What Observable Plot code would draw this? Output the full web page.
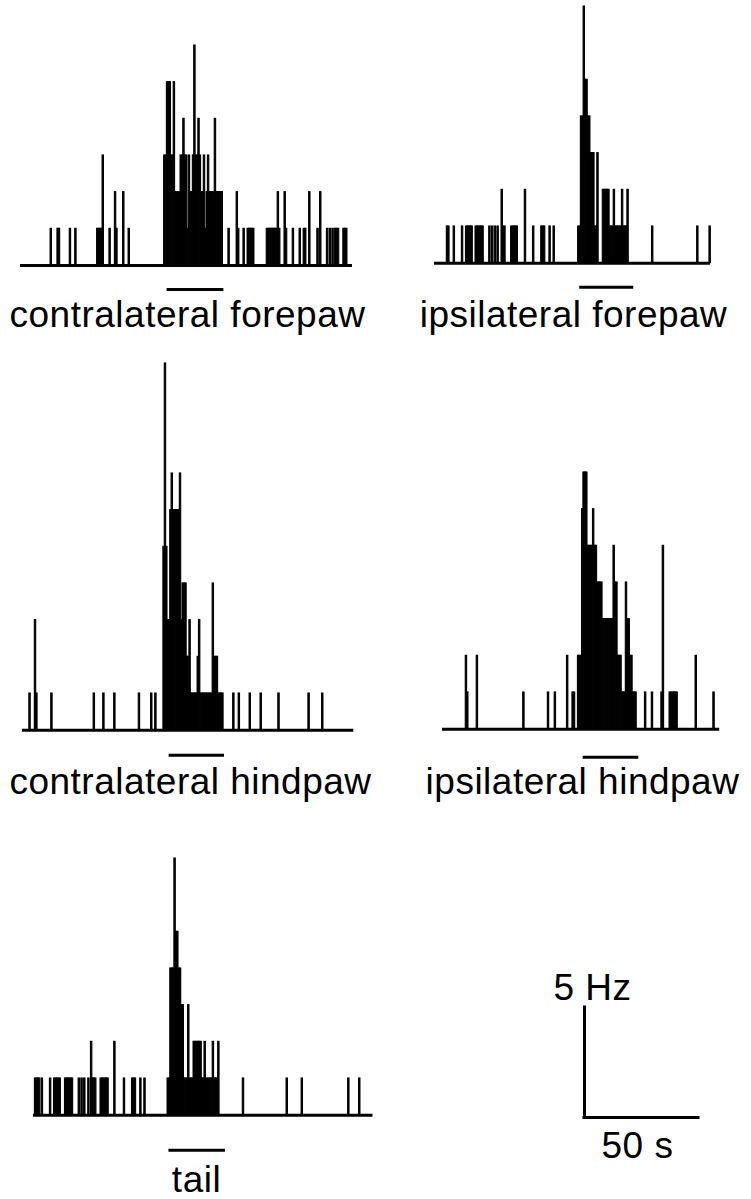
<!DOCTYPE html>
<html>
<head>
<meta charset="utf-8">
<script src="https://cdn.jsdelivr.net/npm/d3@7"></script>
<script src="https://cdn.jsdelivr.net/npm/@observablehq/plot@0.6"></script>
<style>
  html, body { margin: 0; padding: 0; background: #fff; }
  #fig { position: relative; width: 751px; height: 1199px; overflow: hidden; background: #fff; }
  #fig svg { position: absolute; }
</style>
</head>
<body>
<div id="fig"></div>
<script>
// ---------- DATA (peristimulus time histograms, 0.6 s bins: [bin index, spike count]) ----------
const binWidth = 0.6; // seconds per bin

const contraForepaw = [
  [22,1],[27,1],[28,1],[36,1],[40,1],[56,1],[57,1],[58,1],[59,1],[60,3],[65,1],[69,2],[70,1],[75,2],[79,1],
  [105,3],[106,3],[107,5],[108,5],[109,5],[110,3],[111,3],[112,5],[113,2],[114,2],[115,2],[116,2],[117,3],[118,3],
  [119,4],[120,3],[121,3],[122,1],[123,3],[124,2],[125,2],[126,3],[127,6],[128,3],[129,3],[130,4],[131,3],[132,2],
  [133,2],[134,3],[135,1],[136,2],[137,3],[138,2],[139,2],[140,2],[141,2],[142,4],[143,2],[144,2],[145,2],[146,2],[147,2],
  [152,1],[158,2],[159,1],[163,1],[166,1],[167,1],[168,1],[169,1],[170,1],[180,1],[181,1],[182,1],[183,1],[184,1],
  [185,1],[186,1],[187,1],[188,2],[189,1],[193,2],[194,1],[199,1],[204,1],[207,1],[208,1],[211,2],[217,1],[219,2],
  [224,1],[226,1],[228,1],[230,1],[231,1],[232,1],[236,1],[237,1],[238,1]
];

const ipsiForepaw = [
  [9,1],[10,1],[14,1],[20,1],[23,1],[24,1],[25,1],[26,1],[27,1],[30,1],[31,1],[32,1],[33,1],[34,1],[35,1],
  [40,1],[42,1],[44,1],[46,1],[49,2],[50,1],[51,1],[56,1],[57,1],[58,1],[59,1],[60,1],[66,2],[72,1],
  [78,1],[79,1],[80,1],[84,1],[87,1],
  [105,1],[106,1],[107,4],[108,4],[109,7],[110,5],[111,5],[112,4],[113,4],[114,3],[115,3],[116,3],[117,1],[118,1],[119,3],
  [123,2],[124,2],[125,2],[126,2],[127,2],[128,1],[129,1],[130,1],[131,2],[132,1],[133,1],[134,1],[135,1],[136,1],
  [137,2],[138,1],[139,1],[140,1],[141,2],
  [159,1],[192,1],[201,1]
];

const contraHindpaw = [
  [5,1],[9,3],[10,1],[21,1],[52,1],[59,1],[67,1],[85,1],[94,1],[97,1],
  [103,5],[104,10],[105,5],[106,3],[107,3],[108,6],[109,7],[110,6],[111,6],[112,6],[113,6],[114,6],[115,7],[116,3],
  [117,4],[118,4],[119,4],[120,2],[121,2],[122,3],[123,1],[124,1],[125,1],[126,1],[127,1],[128,2],[129,3],
  [130,1],[131,1],[132,1],[133,1],[134,1],[135,1],[136,1],[137,1],[138,1],[139,4],[140,2],[141,2],[142,2],
  [143,1],[144,1],[145,1],[146,1],
  [154,1],[158,1],[166,1],[174,1],[187,1],[209,1],[219,1]
];

const ipsiHindpaw = [
  [17,2],[18,1],[25,2],[59,1],[77,1],[82,1],[91,2],[95,1],[96,1],
  [99,2],[100,2],[101,2],[102,6],[103,7],[104,7],[105,7],[106,5],[107,5],[108,5],[109,5],[110,6],[111,5],[112,5],
  [113,4],[114,4],[115,4],[116,4],[117,3],[118,3],[119,3],[120,3],[121,3],[122,3],[123,3],[124,3],[125,5],[126,4],
  [127,4],[128,2],[129,2],[130,2],[131,1],[132,1],[133,1],[134,4],[135,3],[136,3],[137,2],[138,2],[139,1],[140,1],[141,1],
  [148,1],[153,1],[160,1],[161,5],[166,1],[167,1],[168,1],[169,1],[170,1],[171,1],[185,2],[198,1]
];

const tail = [
  [1,1],[2,1],[3,1],[4,1],[6,1],[12,1],[15,1],[16,1],[17,1],[18,1],[19,1],[23,1],[24,1],[25,1],[26,1],[27,1],[28,1],
  [33,1],[35,1],[37,1],[40,1],[42,2],[43,1],[44,1],[45,1],[49,1],[50,1],[51,1],[52,1],[53,1],[54,1],[59,2],[66,1],
  [72,1],[73,1],[74,1],[78,1],[81,1],
  [98,1],[99,1],[100,4],[101,4],[102,4],[103,7],[104,5],[105,5],[106,4],[107,4],[108,3],[109,3],[110,1],[111,1],[112,1],
  [113,3],[114,1],[115,1],[116,1],[117,2],[118,2],[119,2],[120,2],[121,2],[122,2],[123,1],[124,1],[125,2],[126,1],
  [127,1],[128,1],[129,1],[130,1],[131,2],[132,1],[133,1],[134,1],[135,2],
  [153,1],[185,1],[196,1],[230,1],[238,1]
];

const panelNames = ["contralateral forepaw", "ipsilateral forepaw", "contralateral hindpaw", "ipsilateral hindpaw", "tail"];
const panelSeries = [contraForepaw, ipsiForepaw, contraHindpaw, ipsiHindpaw, tail];
const recordSpan = [145.6, 121, 145.3, 121.6, 148.9];           // s, length of each time axis
const stimStart = [64.3, 63.7, 64.3, 61.7, 59.4];                // s
const stimEnd   = [89.2, 87.4, 88.6, 86.1, 84.2];                // s
const scaleHz = 5, scaleSec = 50;                                // scale bar values

// ---------- LAYOUT ----------
const pxPerSec = 114 / 50;   // 50 s = 114 px
const pxPerHz = 110 / 5;     // 5 Hz = 110 px
const layout = [
  {x0: 20,  base: 265,  ul: 24, lab: 62, labCx: 187},
  {x0: 434, base: 263,  ul: 24, lab: 64, labCx: 573},
  {x0: 22,  base: 730,  ul: 25, lab: 64, labCx: 190},
  {x0: 442, base: 729,  ul: 28, lab: 65, labCx: 582},
  {x0: 33,  base: 1115, ul: 35, lab: 77, labCx: 196}
];
const FONT = "'Liberation Sans', Arial, Helvetica, sans-serif";
const FS = 37;
const LS = "0.5px";
const fig = document.getElementById("fig");

panelSeries.forEach((series, i) => {
  const L = layout[i];
  const span = recordSpan[i];
  const maxHz = d3.max(series, d => d[1]) / binWidth;
  const topHz = maxHz + 1;
  const bottomPx = L.lab + 14;
  const mL = 40, mR = 40;
  const W = mL + span * pxPerSec + mR;
  const H = topHz * pxPerHz + bottomPx;
  const yLo = -bottomPx / pxPerHz;
  const svg = Plot.plot({
    width: W, height: H, margin: 0,
    x: {domain: [0, span], range: [mL, mL + span * pxPerSec], axis: null},
    y: {domain: [yLo, topHz], range: [H, 0], axis: null},
    style: {overflow: "visible", background: "transparent", letterSpacing: LS},
    marks: [
      Plot.rect(series, {
        x1: d => d[0] * binWidth, x2: d => (d[0] + 1) * binWidth,
        y1: 0, y2: d => d[1] / binWidth,
        fill: "black", stroke: "black", strokeWidth: 1.1, inset: 0
      }),
      Plot.ruleY([0], {x1: 0, x2: span, stroke: "black", strokeWidth: 3}),
      Plot.ruleY([-L.ul / pxPerHz], {x1: stimStart[i], x2: stimEnd[i], stroke: "black", strokeWidth: 3}),
      Plot.text([panelNames[i]], {
        x: (L.labCx - L.x0) / pxPerSec, y: -L.lab / pxPerHz, text: d => d,
        fontSize: FS, fontFamily: FONT, textAnchor: "middle", lineAnchor: "bottom", fill: "black"
      })
    ]
  });
  svg.style.position = "absolute";
  svg.style.left = (L.x0 - mL) + "px";
  svg.style.top = (L.base - topHz * pxPerHz) + "px";
  fig.appendChild(svg);
});

// ---------- scale bar ----------
{
  const ox = 584, oy = 1117;
  const mL = 40, mR = 20, topPx = 150, bottomPx = 50;
  const W = mL + scaleSec * pxPerSec + mR;
  const H = topPx + bottomPx;
  const svg = Plot.plot({
    width: W, height: H, margin: 0,
    x: {domain: [0, scaleSec], range: [mL, mL + scaleSec * pxPerSec], axis: null},
    y: {domain: [-bottomPx / pxPerHz, topPx / pxPerHz], range: [H, 0], axis: null},
    style: {overflow: "visible", background: "transparent", letterSpacing: LS},
    marks: [
      Plot.ruleX([0], {y1: 0, y2: scaleHz, stroke: "black", strokeWidth: 3, strokeLinecap: "square"}),
      Plot.ruleY([0], {x1: 0, x2: scaleSec, stroke: "black", strokeWidth: 3, strokeLinecap: "square"}),
      Plot.text([`${scaleHz} Hz`], {x: -31 / pxPerSec, y: 118 / pxPerHz, text: d => d,
        fontSize: FS, fontFamily: FONT, textAnchor: "start", lineAnchor: "bottom", fill: "black"}),
      Plot.text([`${scaleSec} s`], {x: 17 / pxPerSec, y: -40 / pxPerHz, text: d => d,
        fontSize: FS, fontFamily: FONT, textAnchor: "start", lineAnchor: "bottom", fill: "black"})
    ]
  });
  svg.style.position = "absolute";
  svg.style.left = (ox - mL) + "px";
  svg.style.top = (oy - topPx) + "px";
  fig.appendChild(svg);
}
</script>
</body>
</html>
